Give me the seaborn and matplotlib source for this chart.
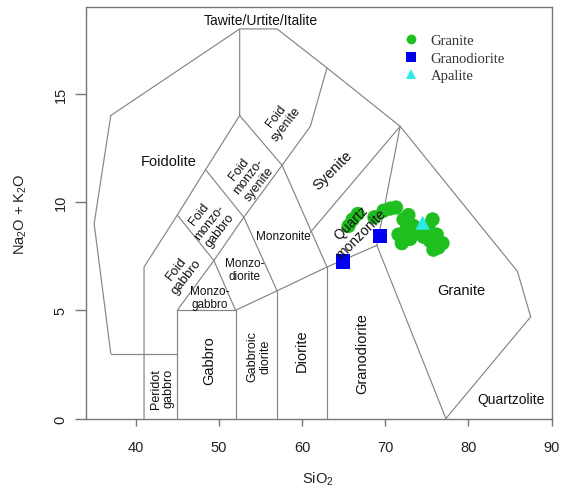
import matplotlib
matplotlib.use("Agg")
import matplotlib.pyplot as plt
import numpy as np
import pandas as pd
import seaborn as sns
from matplotlib.lines import Line2D

# ---- sample analyses (SiO2 wt%, Na2O+K2O wt%) ----
granite_sio2 = [65.6, 66.1, 66.7, 68.7, 69.8, 70.6, 71.3,
                72.2, 72.8, 72.6, 73.4, 71.6, 72.0, 73.0, 73.8,
                74.6, 75.2, 75.7, 75.4, 76.2, 76.4, 75.8, 76.9]
granite_alk = [8.9, 9.2, 9.45, 9.3, 9.6, 9.7, 9.75,
               9.2, 9.4, 8.8, 8.9, 8.5, 8.1, 8.3, 8.6,
               8.4, 8.9, 9.2, 8.2, 8.5, 7.9, 7.8, 8.1]
granodiorite_sio2 = [64.9, 69.4]
granodiorite_alk = [7.25, 8.45]
apalite_sio2 = [74.5]
apalite_alk = [9.05]

groups = ["Granite", "Granodiorite", "Apalite"]
group_colors = ["#1FBF1F", "#0000F0", "#30E8E8"]
group_markers = ["o", "s", "^"]

# ---- TAS (plutonic) field boundaries ----
boundaries = [
    [(37, 3), (35, 9), (37, 14), (52.5, 18), (57, 18), (63, 16.2),
     (71.8, 13.5), (85.9, 6.8), (87.5, 4.7), (77.3, 0)],
    [(37, 3), (45, 3)],
    [(41, 0), (41, 7), (45, 9.4), (48.4, 11.5), (52.5, 14), (52.5, 18)],
    [(45, 0), (45, 5), (52, 5), (52, 0)],
    [(45, 5), (49.4, 7.3), (53, 9.3), (57.6, 11.7), (52.5, 14)],
    [(45, 9.4), (49.4, 7.3), (52, 5)],
    [(48.4, 11.5), (53, 9.3), (57, 5.9)],
    [(52, 5), (57, 5.9), (63, 7), (69, 8), (77.3, 0)],
    [(57, 0), (57, 5.9)],
    [(63, 0), (63, 7)],
    [(57.6, 11.7), (63, 7)],
    [(57.6, 11.7), (61, 13.5), (63, 16.2)],
    [(61, 8.6), (71.8, 13.5)],
    [(69, 8), (71.8, 13.5)],
]

# ---- field names: (text, x, y, rotation, size) ----
field_labels = [
    ("Tawite/Urtite/Italite", 55.0, 18.42, 0, 10),
    ("Foidolite", 44.0, 11.9, 0, 10.5),
    ("Foid\nsyenite", 57.5, 13.8, 52, 9),
    ("Foid\nmonzo-\nsyenite", 53.6, 11.2, 52, 9),
    ("Foid\nmonzo-\ngabbro", 48.9, 9.1, 52, 9),
    ("Foid\ngabbro", 45.5, 6.75, 52, 9.5),
    ("Monzo-\ngabbro", 48.9, 5.6, 0, 8.5),
    ("Monzo-\ndiorite", 53.1, 6.9, 0, 8.5),
    ("Monzonite", 57.7, 8.43, 0, 8.5),
    ("Syenite", 63.7, 11.5, 45, 10.5),
    ("Quartz\nmonzonite", 66.5, 8.8, 45, 10),
    ("Granite", 79.1, 5.92, 0, 10.5),
    ("Granodiorite", 67.3, 3.05, 90, 10.5),
    ("Diorite", 60.0, 3.2, 90, 10.5),
    ("Gabbroic\ndiorite", 54.8, 2.9, 90, 9),
    ("Gabbro", 48.8, 2.73, 90, 10.5),
    ("Peridot\ngabbro", 43.2, 1.42, 90, 9),
    ("Quartzolite", 85.1, 0.92, 0, 10),
]

x_ticks = [40, 50, 60, 70, 80, 90]
y_ticks = [0, 5, 10, 15]

sns.set_theme(style="white")
plt.rcParams["font.family"] = ["Liberation Sans", "DejaVu Sans"]
plt.rcParams["mathtext.fontset"] = "custom"
plt.rcParams["mathtext.rm"] = "Liberation Sans"
plt.rcParams["mathtext.default"] = "regular"

fig = plt.figure(figsize=(5.61, 4.89), dpi=100)
ax = fig.add_axes([86.5 / 561, 69.5 / 489, 465 / 561, 411.2 / 489])
ax.set_xlim(34.08, 90)
ax.set_ylim(0, 19)

line_gray = "#858585"
for seg in boundaries:
    xs, ys = zip(*seg)
    ax.plot(xs, ys, color=line_gray, lw=0.85, zorder=1, solid_joinstyle="miter")

df = pd.concat([
    pd.DataFrame({"SiO2": granite_sio2, "alk": granite_alk, "rock": "Granite"}),
    pd.DataFrame({"SiO2": granodiorite_sio2, "alk": granodiorite_alk, "rock": "Granodiorite"}),
    pd.DataFrame({"SiO2": apalite_sio2, "alk": apalite_alk, "rock": "Apalite"}),
], ignore_index=True)

sns.scatterplot(data=df, x="SiO2", y="alk", hue="rock", style="rock",
                hue_order=groups, style_order=groups,
                palette=dict(zip(groups, group_colors)),
                markers=dict(zip(groups, group_markers)),
                s=105, edgecolor="none", linewidth=0, legend=False,
                ax=ax, zorder=3)

for text, x, y, rot, size in field_labels:
    ax.text(x, y, text, rotation=rot, rotation_mode="anchor", ha="center",
            va="center", multialignment="center", fontsize=size,
            color="#111111", zorder=4, linespacing=1.1)

handles = [Line2D([], [], linestyle="none", marker=m, color=c, markersize=7,
                  markeredgewidth=0)
           for m, c in zip(group_markers, group_colors)]
ax.legend(handles, groups, loc="upper left", bbox_to_anchor=(0.682, 0.935),
          frameon=False, handlelength=1.0, handletextpad=0.85,
          labelspacing=0.3, borderpad=0, borderaxespad=0,
          prop={"family": "Liberation Serif", "size": 10.5},
          labelcolor="#333333")

axis_gray = "#777777"
for sp in ax.spines.values():
    sp.set_color(axis_gray)
    sp.set_linewidth(1.0)
    sp.set_visible(True)

ax.set_xticks(x_ticks)
ax.set_yticks(y_ticks)
ax.set_xticklabels([str(v) for v in x_ticks])
ax.set_yticklabels([str(v) for v in y_ticks], rotation=90, va="center")
ax.tick_params(axis="x", direction="out", length=5.2, width=1.0, color=axis_gray,
               labelsize=10.5, pad=10, labelcolor="#222222", bottom=True)
ax.tick_params(axis="y", direction="out", length=7.7, width=1.0, color=axis_gray,
               labelsize=10.5, pad=6, labelcolor="#222222", left=True)
ax.set_xlabel("")
ax.set_ylabel("")
ax.grid(False)

fig.text(318 / 561, 1 - 479 / 489, "SiO$_2$", ha="center", va="center",
         fontsize=10.5, color="#222222")
fig.text(21 / 561, 1 - 214 / 489, "Na$_2$O + K$_2$O", ha="center", va="center",
         rotation=90, fontsize=10.5, color="#222222")

fig.savefig("out.png", dpi=100)
